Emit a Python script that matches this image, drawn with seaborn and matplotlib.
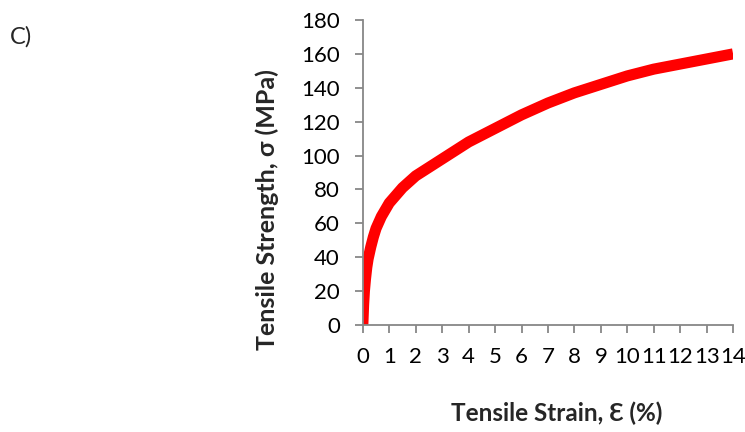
import matplotlib
matplotlib.use("Agg")
import matplotlib.pyplot as plt
import seaborn as sns
import pandas as pd

strain = [0.0, 0.03, 0.06, 0.1, 0.15, 0.2, 0.3, 0.4, 0.5, 0.7, 1.0, 1.5, 2.0, 2.5, 3.0, 3.5, 4.0, 4.5, 5.0,
          6.0, 7.0, 8.0, 9.0, 10.0, 11.0, 12.0, 13.0, 14.0]
stress = [0, 12, 20, 27, 34, 39, 46, 52, 57, 64, 72, 81, 88, 93, 98, 103, 108, 112, 116,
          124, 131, 137, 142, 147, 151, 154, 157, 160]
xticks = list(range(0, 15))
yticks = list(range(0, 181, 20))

sns.set_theme(style="white")
plt.rcParams['font.family'] = ['Lato', 'DejaVu Sans']

df = pd.DataFrame({"strain": strain, "stress": stress})
fig = plt.figure(figsize=(7.45, 4.32), dpi=100)
ax = fig.add_axes([0.487, 0.2477, 0.497, 0.706])
sns.lineplot(data=df, x="strain", y="stress", ax=ax, color="#ff0000", linewidth=8,
             solid_capstyle="butt")
ax.set_xlim(0, 14)
ax.set_ylim(0, 180)
ax.set_xticks(xticks)
ax.set_yticks(yticks)
for s in ["top", "right"]:
    ax.spines[s].set_visible(False)
for s in ["left", "bottom"]:
    ax.spines[s].set_color("#878787")
    ax.spines[s].set_linewidth(1.3)
ax.tick_params(axis="both", direction="out", length=5.5, width=1.3, color="#878787",
               labelsize=16, labelcolor="black", left=True, bottom=True)
ax.tick_params(axis="x", pad=10)
ax.tick_params(axis="y", pad=11)
ax.set_xlabel("Tensile Strain, Ɛ (%)", fontsize=17.5, fontweight="bold", va="center")
ax.set_ylabel("Tensile Strength, σ (MPa)", fontsize=18, fontweight="bold", va="center")
ax.xaxis.set_label_coords(0.524, -0.289)
ax.yaxis.set_label_coords(-0.257, 0.377)
fig.text(10 / 745, 1 - 37 / 432, "C)", fontsize=17, va="center", ha="left")
fig.savefig("out.png", dpi=100)
